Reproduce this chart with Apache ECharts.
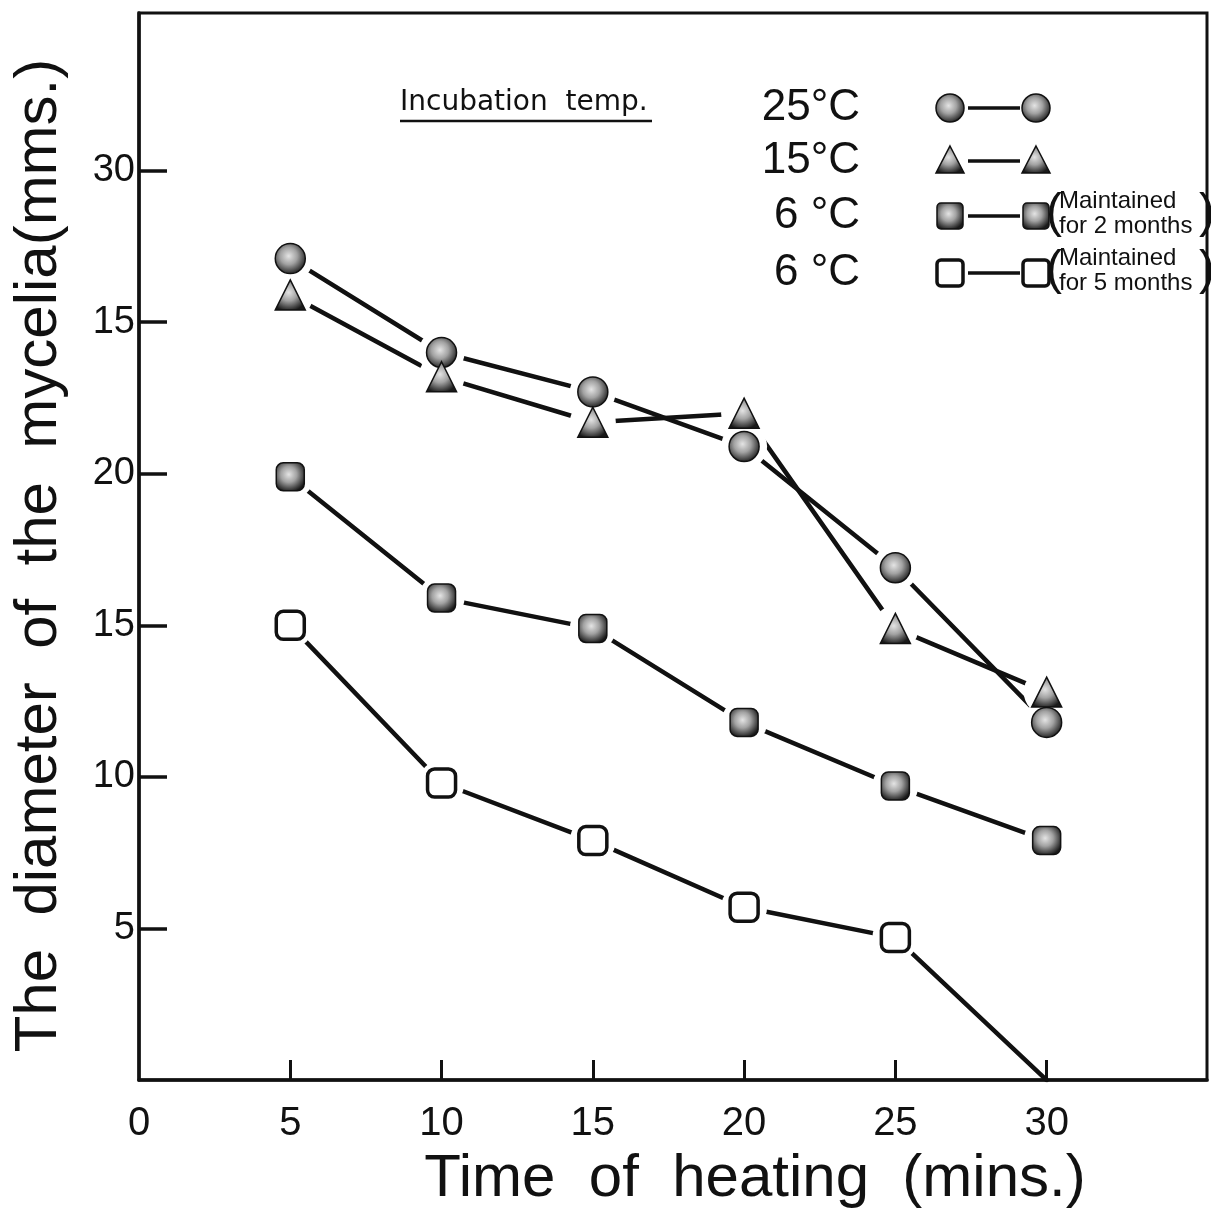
<!DOCTYPE html>
<html>
<head>
<meta charset="utf-8">
<title>Diameter of the mycelia vs time of heating</title>
<script src="https://cdn.jsdelivr.net/npm/echarts@6/dist/echarts.min.js"></script>
<style>
    html, body { margin: 0; padding: 0; background: #fff; }
    #main { width: 1211px; height: 1214px; }
</style>
</head>
<body>
<div id="main"></div>
<script>
    // time of heating (mins)
    var heatTimes = [5, 10, 15, 20, 25, 30];
    // diameter of the mycelia (mm) per incubation temp.
    var temp25 = [27.1, 24.0, 22.7, 20.9, 16.9, 11.8];
    var temp15 = [25.9, 23.2, 21.7, 22.0, 14.9, 12.8];
    var temp6TwoMonths = [19.9, 15.9, 14.9, 11.8, 9.7, 7.9];
    var temp6FiveMonths = [15.0, 9.8, 7.9, 5.7, 4.7, 0];
    // last point of the 5 months curve has no marker, the line just runs into the axis
    var fiveMonthsMarked = [true, true, true, true, true, false];

    var xLabelValues = [0, 5, 10, 15, 20, 25, 30];
    var xLabels = ['0', '5', '10', '15', '20', '25', '30'];
    var xTickValues = [5, 10, 15, 20, 25, 30];
    var yTickValues = [5, 10, 15, 20, 25, 30];
    var yLabels = ['5', '10', '15', '20', '15', '30'];  //printed like this on the original

    var legendTemps = ['25°C', '15°C', '6 °C', '6 °C'];
    var legendNotes = ['', '', 'Maintained\nfor 2 months', 'Maintained\nfor 5 months'];

    var FONT = "'Liberation Sans', Arial, sans-serif";

    function toPairs(values, marked) {
        var out = [];
        for (var i = 0; i < heatTimes.length; i++) {
            if (marked && !marked[i]) continue;
            out.push([heatTimes[i], values[i]]);
        }
        return out;
    }

    function greyFill() {
        return new echarts.graphic.RadialGradient(0.45, 0.42, 0.6, [
            { offset: 0, color: '#e4e4e4' },
            { offset: 0.45, color: '#a2a2a2' },
            { offset: 0.8, color: '#4a4a4a' },
            { offset: 1, color: '#1a1a1a' }
        ]);
    }

    var markerStyles = [
        { symbol: 'circle', size: 30, itemStyle: { color: greyFill(), borderColor: '#111', borderWidth: 1.5, opacity: 1 } },
        { symbol: 'triangle', size: 30, itemStyle: { color: greyFill(), borderColor: '#111', borderWidth: 1.5, opacity: 1 } },
        { symbol: 'roundRect', size: 28, itemStyle: { color: greyFill(), borderColor: '#111', borderWidth: 1.5, opacity: 1 } },
        { symbol: 'roundRect', size: 28, itemStyle: { color: '#fff', borderColor: '#111', borderWidth: 3.5, opacity: 1 } }
    ];

    var seriesValues = [temp25, temp15, temp6TwoMonths, temp6FiveMonths];
    var seriesMarks = [null, null, null, fiveMonthsMarked];

    var series = [];
    // lines first
    for (var s = 0; s < seriesValues.length; s++) {
        series.push({
            type: 'line',
            data: toPairs(seriesValues[s]),
            showSymbol: false,
            silent: true,
            z: 2,
            lineStyle: { color: '#111', width: 4.5, cap: 'round' }
        });
    }
    // white halos give the small gap between line ends and markers
    var haloData = [];
    for (var s = 0; s < seriesValues.length; s++) {
        haloData = haloData.concat(toPairs(seriesValues[s], seriesMarks[s]));
    }
    series.push({
        type: 'scatter',
        data: haloData,
        symbol: 'circle',
        symbolSize: 46,
        silent: true,
        z: 3,
        itemStyle: { color: '#fff', opacity: 1 }
    });
    // markers on top
    for (var s = 0; s < seriesValues.length; s++) {
        series.push({
            type: 'scatter',
            data: toPairs(seriesValues[s], seriesMarks[s]),
            symbol: markerStyles[s].symbol,
            symbolSize: markerStyles[s].size,
            itemStyle: markerStyles[s].itemStyle,
            z: 4
        });
    }

    // legend drawn by hand, the original has "symbol — symbol" rows
    var rowY = [108, 161, 216, 273];
    var graphics = [
        {
            type: 'text', left: 400, top: 89,
            style: { text: 'Incubation  temp.', font: "28px 'DejaVu Sans', sans-serif", fill: '#111' }
        },
        {
            type: 'line', shape: { x1: 400, y1: 121, x2: 652, y2: 121 },
            style: { stroke: '#111', lineWidth: 2.5 }
        }
    ];

    function legendSymbol(kind, x, y) {
        var st = markerStyles[kind].itemStyle;
        var style = { fill: st.color, stroke: st.borderColor, lineWidth: st.borderWidth };
        if (kind == 0) {
            return { type: 'circle', shape: { cx: x, cy: y, r: 14 }, style: style };
        } else if (kind == 1) {
            return { type: 'polygon', shape: { points: [[x, y - 15], [x + 14, y + 12], [x - 14, y + 12]] }, style: style };
        }
        return { type: 'rect', shape: { x: x - 13, y: y - 13, width: 26, height: 26, r: 4 }, style: style };
    }

    for (var r = 0; r < legendTemps.length; r++) {
        graphics.push({
            type: 'text', x: 860, y: rowY[r],
            style: { text: legendTemps[r], font: '44px ' + FONT, fill: '#111', align: 'right', verticalAlign: 'middle' }
        });
        graphics.push({
            type: 'line', shape: { x1: 968, y1: rowY[r], x2: 1020, y2: rowY[r] },
            style: { stroke: '#111', lineWidth: 3.5 }
        });
        graphics.push(legendSymbol(r, 950, rowY[r]));
        graphics.push(legendSymbol(r, 1036, rowY[r]));
        if (legendNotes[r]) {
            graphics.push({
                type: 'text', x: 1046, y: rowY[r] - 2,
                style: { text: '(', font: '48px ' + FONT, fill: '#111', verticalAlign: 'middle' }
            });
            graphics.push({
                type: 'text', x: 1059, y: rowY[r] - 2,
                style: { text: legendNotes[r], font: '24px ' + FONT, lineHeight: 25, fill: '#111', verticalAlign: 'middle' }
            });
            graphics.push({
                type: 'text', x: 1199, y: rowY[r] - 2,
                style: { text: ')', font: '48px ' + FONT, fill: '#111', verticalAlign: 'middle' }
            });
        }
    }

    var myChart = echarts.init(document.getElementById('main'));
    var option = {
        backgroundColor: '#fff',
        animation: false,
        grid: {
            left: 139,
            right: 4,
            top: 13,
            bottom: 133,
            show: true,
            borderColor: '#111',
            borderWidth: 3
        },
        xAxis: {
            type: 'value',
            min: 0,
            max: 35.3,
            name: 'Time  of  heating  (mins.)',
            nameLocation: 'middle',
            nameGap: 68,
            nameTextStyle: { fontFamily: FONT, fontSize: 60, color: '#111', padding: [0, 0, 0, 164] },
            splitLine: { show: false },
            axisLine: { lineStyle: { color: '#111', width: 3.5 } },
            axisTick: { inside: true, length: 20, customValues: xTickValues, lineStyle: { color: '#111', width: 3 } },
            axisLabel: {
                customValues: xLabelValues,
                margin: 24,
                fontFamily: FONT,
                fontSize: 40,
                color: '#111',
                formatter: function (v) {
                    var i = xLabelValues.indexOf(v);
                    return i >= 0 ? xLabels[i] : '';
                }
            }
        },
        yAxis: {
            type: 'value',
            min: 0,
            max: 35.2,
            name: 'The  diameter  of  the  mycelia(mms.)',
            nameLocation: 'middle',
            nameGap: 70,
            nameRotate: 90,
            nameTextStyle: { fontFamily: FONT, fontSize: 60, color: '#111', padding: [0, 18, 0, 0] },
            splitLine: { show: false },
            axisLine: { lineStyle: { color: '#111', width: 3.5 } },
            axisTick: { inside: true, length: 28, customValues: yTickValues, lineStyle: { color: '#111', width: 3.5 } },
            axisLabel: {
                customValues: yTickValues,
                margin: 4,
                fontFamily: FONT,
                fontSize: 38,
                color: '#111',
                formatter: function (v) {
                    var i = yTickValues.indexOf(v);
                    return i >= 0 ? yLabels[i] : '';
                }
            }
        },
        graphic: graphics,
        series: series
    };
    myChart.setOption(option);
    window.onresize = function () {
        myChart.resize();
    };
</script>
</body>
</html>
